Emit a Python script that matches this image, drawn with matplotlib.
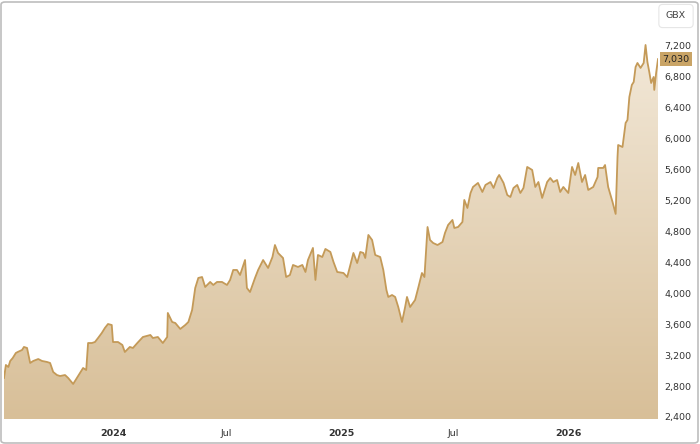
import numpy as np
import matplotlib
matplotlib.use("Agg")
import matplotlib.pyplot as plt
import matplotlib.dates as mdates
from matplotlib.colors import LinearSegmentedColormap
from matplotlib.patches import FancyBboxPatch
import datetime as dt

# share price in GBX, days counted from the first point
start = dt.date(2023, 7, 10)
days = [0, 3, 7, 10, 14, 19, 22, 29, 32, 37, 42, 47, 55, 61, 69, 74, 79, 85, 90, 98,
        103, 111, 117, 122, 127, 132, 135, 141, 146, 151, 157, 162, 167, 173, 175, 183,
        190, 194, 202, 207, 214, 223, 235, 239, 247, 255, 262, 263, 270, 275, 283, 291,
        296, 302, 307, 312, 318, 323, 331, 336, 342, 350, 358, 363, 368, 374, 379, 387,
        390, 395, 403, 408, 416, 424, 431, 435, 440, 448, 453, 459, 464, 472, 479, 484,
        488, 496, 500, 504, 511, 516, 524, 529, 535, 545, 551, 554, 561, 567, 572, 577,
        580, 585, 591, 596, 604, 609, 614, 617, 623, 628, 633, 639, 644, 647, 652, 660,
        665, 671, 675, 680, 684, 689, 696, 704, 708, 713, 720, 723, 729, 736, 739, 744,
        749, 753, 761, 768, 773, 781, 786, 792, 795, 802, 808, 813, 818, 824, 829, 834,
        840, 848, 853, 858, 864, 872, 877, 882, 888, 893, 898, 906, 912, 917, 922, 928,
        933, 938, 946, 953, 954, 962, 965, 970, 977, 982, 985, 986, 993, 998, 1001, 1004,
        1008, 1011, 1014, 1017, 1022, 1027, 1030, 1033, 1036, 1039, 1043, 1044, 1047, 1050]
prices = [2905, 3073, 3047, 3125, 3163, 3228, 3241, 3267, 3306, 3293, 3099, 3125, 3150, 3125,
          3112, 3099, 2982, 2943, 2930, 2943, 2905, 2827, 2905, 2969, 3034, 3008, 3357, 3357,
          3370, 3422, 3487, 3552, 3603, 3590, 3370, 3370, 3332, 3241, 3306, 3293, 3357, 3435,
          3461, 3422, 3435, 3357, 3435, 3746, 3629, 3616, 3539, 3590, 3629, 3784, 4069, 4199,
          4211, 4082, 4147, 4108, 4147, 4147, 4108, 4173, 4302, 4302, 4237, 4431, 4069, 4017,
          4199, 4302, 4431, 4328, 4470, 4625, 4522, 4457, 4211, 4237, 4367, 4341, 4367, 4276,
          4431, 4587, 4173, 4496, 4470, 4574, 4535, 4406, 4276, 4263, 4211, 4302, 4522, 4392,
          4535, 4522, 4457, 4755, 4690, 4496, 4470, 4302, 4043, 3953, 3978, 3953, 3823, 3629,
          3823, 3953, 3823, 3914, 4069, 4263, 4211, 4858, 4690, 4651, 4625, 4664, 4781, 4884,
          4949, 4845, 4858, 4923, 5208, 5104, 5298, 5376, 5428, 5311, 5402, 5440, 5363, 5492,
          5531, 5428, 5272, 5246, 5363, 5402, 5298, 5363, 5635, 5596, 5376, 5440, 5234, 5440,
          5492, 5440, 5466, 5311, 5376, 5298, 5635, 5531, 5686, 5440, 5531, 5337, 5376, 5505,
          5622, 5622, 5660, 5376, 5182, 5027, 5764, 5919, 5893, 6204, 6243, 6540, 6696, 6734,
          6928, 6980, 6916, 6980, 7213, 6993, 6864, 6721, 6799, 6631, 6851, 7030]
yticks = [2400, 2800, 3200, 3600, 4000, 4400, 4800, 5200, 5600, 6000, 6400, 6800, 7200]
xtick_dates = [dt.date(2024, 1, 1), dt.date(2024, 7, 1), dt.date(2025, 1, 1),
               dt.date(2025, 7, 1), dt.date(2026, 1, 1)]
xtick_labels = ["2024", "Jul", "2025", "Jul", "2026"]
last_price = 7030

dates = [start + dt.timedelta(days=d) for d in days]
x = mdates.date2num(dates)
y = np.array(prices)

line_col = "#C49A58"
fs = 6.8
fig = plt.figure(figsize=(7, 4.44), dpi=100)
ax = fig.add_axes([4 / 700, 25 / 444, 654 / 700, 415 / 444])
ymin, ymax = 2374, 7743
ax.set_ylim(ymin, ymax)
ax.set_xlim(x[0], x[-1])

# gradient fill clipped to the area under the line
poly = ax.fill_between(x, y, ymin, color="none", lw=0)
cmap = LinearSegmentedColormap.from_list("g", ["#D8BF98", "#F2E8D8"])
grad = np.linspace(0, 1, 256).reshape(-1, 1)
im = ax.imshow(grad, cmap=cmap, aspect="auto", origin="lower",
               extent=[x[0], x[-1], ymin, y.max()], zorder=1)
im.set_clip_path(poly.get_paths()[0], transform=ax.transData)
ax.plot(x, y, color=line_col, lw=1.3, zorder=3)

for s in ax.spines.values():
    s.set_visible(False)
ax.yaxis.tick_right()
ax.set_yticks(yticks)
ax.set_yticklabels([f"{v:,}" for v in yticks])
ax.tick_params(axis="y", length=0, pad=4.5, labelsize=fs, labelcolor="#333333")
ax.set_xticks(mdates.date2num(xtick_dates))
ax.set_xticklabels(xtick_labels)
ax.tick_params(axis="x", length=0, pad=7, labelsize=fs, labelcolor="#333333")
for lab in ax.get_xticklabels():
    if lab.get_text() != "Jul":
        lab.set_fontweight("bold")

# last price tag
ax.text(1.0 + 4.5 / 654, last_price, f"{last_price:,}", transform=ax.get_yaxis_transform(),
        va="center", ha="left", fontsize=fs, color="#222222",
        bbox=dict(boxstyle="square,pad=0.3", fc="#C9A466", ec="none"))

# currency box
fig.text(676 / 700, 1 - 16 / 444, "GBX", ha="center", va="center", fontsize=fs,
         color="#444444",
         bbox=dict(boxstyle="round,pad=0.75,rounding_size=0.4", fc="white", ec="#E6E6E6", lw=0.8))

# outer border
fig.patches.append(FancyBboxPatch((1 / 700, 1 / 444), 697 / 700, 441 / 444,
                                  boxstyle="round,pad=0,rounding_size=0.006",
                                  transform=fig.transFigure, fc="none", ec="#BDBDBD", lw=1.2))

fig.savefig("out.png", dpi=100)
